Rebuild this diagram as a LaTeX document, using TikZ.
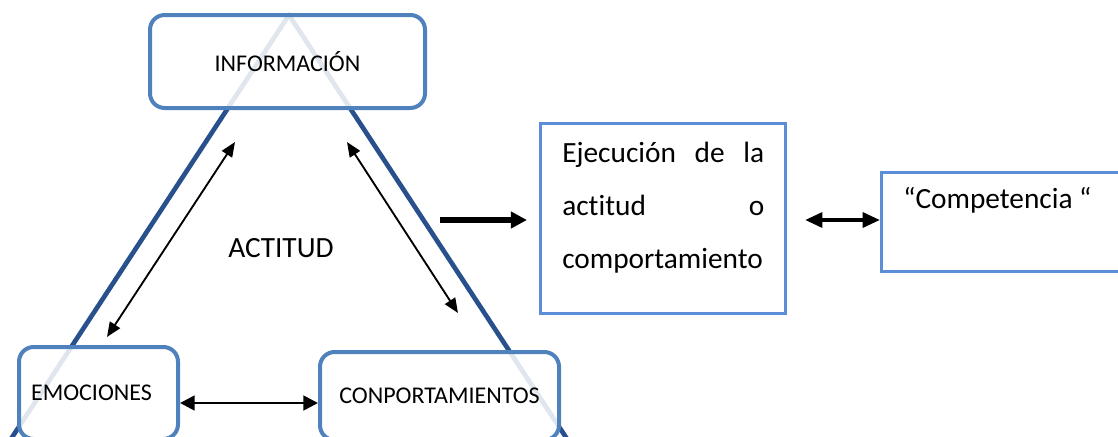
\documentclass[tikz,border=0pt]{standalone}
\usepackage{fontspec}
\setmainfont{Carlito}[Ligatures=NoCommon]
\usetikzlibrary{arrows.meta,calc}
\definecolor{boxblue}{RGB}{79,129,189}
\definecolor{tridark}{RGB}{40,80,140}
\definecolor{lightblue}{RGB}{91,142,214}
\begin{document}
\begin{tikzpicture}[x=0.75pt,y=-0.75pt,
  tri/.style={draw=tridark,line width=3.5pt,line join=round},
  rbox/.style={draw=boxblue,line width=3pt,rounded corners=11pt,fill=white,fill opacity=0.86,text opacity=1,
     inner sep=0pt,font=\fontsize{18pt}{22pt}\selectfont},
  sbox/.style={draw=lightblue,line width=2.3pt,inner sep=0pt},
  bigtext/.style={inner sep=0pt,font=\fontsize{22pt}{26pt}\selectfont},
  thinarrow/.style={draw=black,line width=1.4pt,{Triangle[length=11pt,width=9pt]}-{Triangle[length=11pt,width=9pt]}},
  midarrow/.style={draw=black,line width=2.1pt,{Triangle[length=11pt,width=11pt]}-{Triangle[length=11pt,width=11pt]}},
  thickarrow/.style={draw=black,line width=3pt,{Triangle[length=13pt,width=11pt]}-{Triangle[length=13pt,width=11pt]}},
  boldarrow/.style={draw=black,line width=4pt,-{Triangle[length=12pt,width=12pt]}}]
\useasboundingbox (0,0) rectangle (1118,436);
\clip (0,0) rectangle (1118,436);
\fill[white] (0,0) rectangle (1118,436);
% triangle
\coordinate (apex) at (289,15);
\coordinate (bl) at (7,445);
\coordinate (br) at (571,445);
\draw[tri] (bl) -- (apex) -- (br);
% rounded boxes
\node[rbox,minimum width=206.25pt,minimum height=69.75pt] (info) at (287.5,61.5) {INFORMACIÓN};
\node[rbox,minimum width=119.25pt,minimum height=69pt] (emo) at (98.5,393) {EMOCIONES\kern10.5pt};
\node[rbox,minimum width=179.25pt,minimum height=66pt] (con) at (439.5,396) {CONPORTAMIENTOS};
% centre label
\node[bigtext,anchor=base west] (act) at (228,257) {ACTITUD};
% square boxes
\node[sbox,minimum width=183.75pt,minimum height=142.5pt] (ej) at (663,218.5) {};
\node[bigtext,anchor=base west] (ej1) at (562,162) {\hbox to 151.5pt{Ejecución\hfill de\hfill la}};
\node[bigtext,anchor=base west] (ej2) at (562,215) {\hbox to 151.5pt{actitud\hfill o}};
\node[bigtext,anchor=base west] (ej3) at (562,268) {comportamiento};
\node[sbox,minimum width=182.6pt,minimum height=74.25pt] (comp) at (1003.3,222) {};
\node[bigtext,anchor=base west] (comptext) at (903,208) {“Competencia “};
% arrows
\coordinate (d1a) at (235,142);
\coordinate (d1b) at (107,337);
\coordinate (d2a) at (347,142);
\coordinate (d2b) at (458,313);
\draw[thinarrow] (d1a) -- (d1b);
\draw[thinarrow] (d2a) -- (d2b);
\draw[midarrow] ($(emo.east)+(0,10)$) -- ($(con.west)+(0,7)$);
\coordinate (tout) at (440,220);
\draw[boldarrow,shorten >=9pt] (tout) -- (ej.west |- tout);
\coordinate (cstart) at (805,220);
\draw[thickarrow] (cstart) -- (comp.west |- cstart);
\end{tikzpicture}
\end{document}
